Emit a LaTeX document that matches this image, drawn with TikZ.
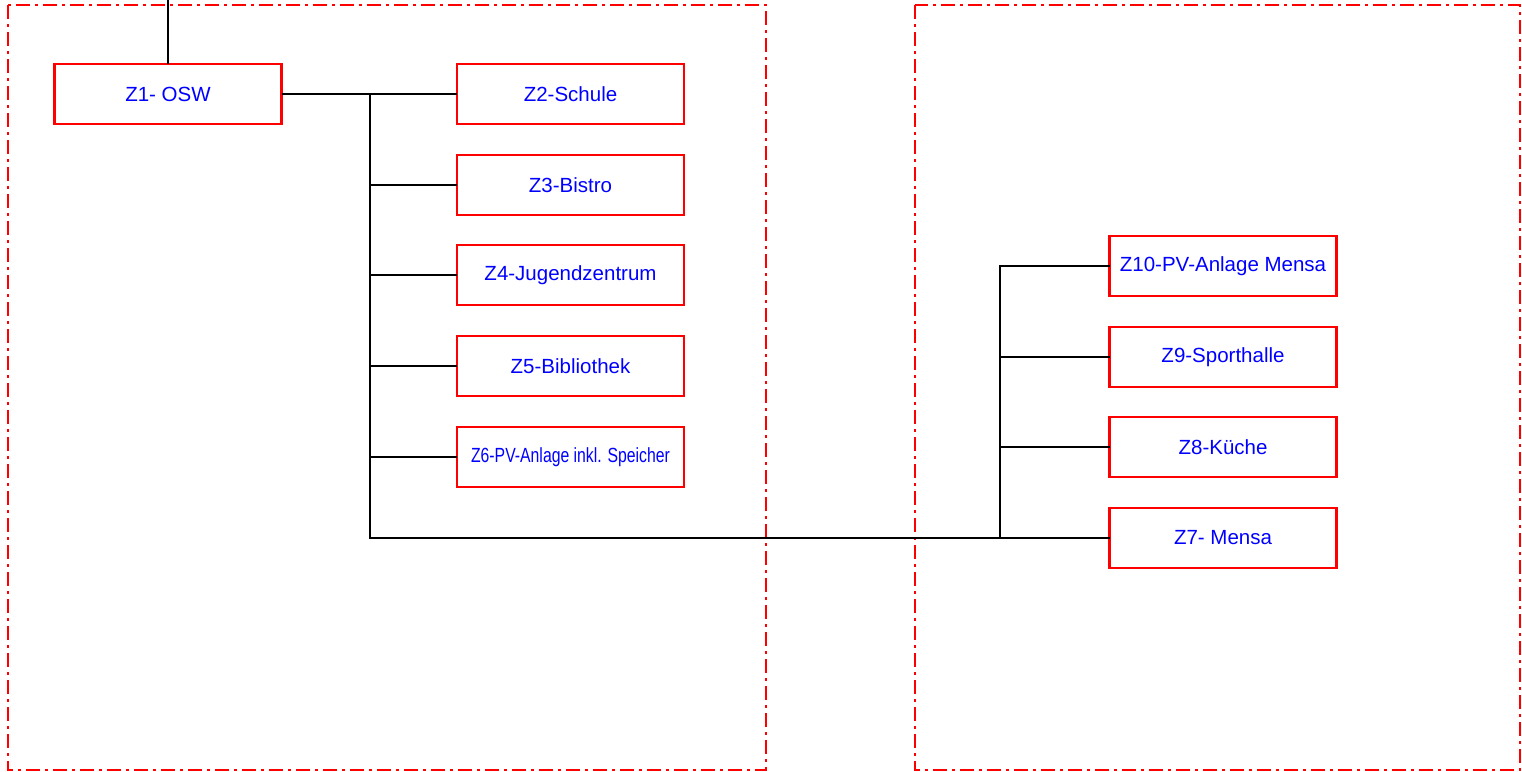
\documentclass[tikz,border=0pt]{standalone}
\usepackage{fontspec}
\setmainfont{Liberation Sans}
\usepackage{graphicx}
\begin{document}
\begin{tikzpicture}[x=1pt,y=-1pt,
  zbox/.style={draw=red,line width=2.6pt,minimum width=227pt,minimum height=60pt,inner sep=0pt,outer sep=0pt,text=blue,font=\fontsize{20.5}{23}\selectfont,anchor=center},
  area/.style={draw=red,line width=2.2pt,dash pattern=on 14pt off 5pt on 3pt off 5pt},
  wire/.style={draw=black,line width=1.8pt}]
\useasboundingbox (0,0) rectangle (1522,771);
\draw[area] (8,5) rectangle (766,770);
\draw[area] (915,5) rectangle (1520,770);
\node[zbox] (z1) at (168,94) {Z1- OSW};
\node[zbox] (z2) at (570.5,94) {Z2-Schule};
\node[zbox] (z3) at (570.5,185) {Z3-Bistro};
\node[zbox] (z4) at (570.5,275) {Z4-Jugendzentrum};
\node[zbox] (z5) at (570.5,366) {Z5-Bibliothek};
\node[zbox] (z6) at (570.5,457) {\scalebox{0.77}[1]{Z6-PV-Anlage inkl. Speicher}};
\node[zbox] (z10) at (1223,266) {Z10-PV-Anlage Mensa};
\node[zbox] (z9) at (1223,357) {Z9-Sporthalle};
\node[zbox] (z8) at (1223,447) {Z8-Küche};
\node[zbox] (z7) at (1223,538) {Z7- Mensa};
\coordinate (top) at (168,0);
\coordinate (b1) at (370,94);
\coordinate (b2) at (370,538);
\coordinate (c1) at (1000,266);
\coordinate (c2) at (1000,538);
\draw[wire] (top) -- (z1.north);
\draw[wire] (z1.east) -- (z2.west);
\draw[wire] (b1) -- (b2) -- (z7.west);
\draw[wire] (z3.west) -- (z3.west -| b1);
\draw[wire] (z4.west) -- (z4.west -| b1);
\draw[wire] (z5.west) -- (z5.west -| b1);
\draw[wire] (z6.west) -- (z6.west -| b1);
\draw[wire] (c2) -- (c1) -- (z10.west);
\draw[wire] (z9.west) -- (z9.west -| c1);
\draw[wire] (z8.west) -- (z8.west -| c1);
\end{tikzpicture}
\end{document}
